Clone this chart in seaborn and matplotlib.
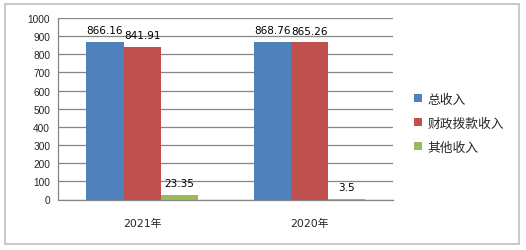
import matplotlib
matplotlib.use("Agg")
import matplotlib.pyplot as plt
import seaborn as sns
import pandas as pd
from matplotlib.patches import Rectangle

years = ["2021年", "2020年"]
series = ["总收入", "财政拨款收入", "其他收入"]
total = [866.16, 868.76]
fiscal = [841.91, 865.26]
other = [23.35, 3.5]
labels_text = {"总收入": ["866.16", "868.76"], "财政拨款收入": ["841.91", "865.26"], "其他收入": ["23.35", "3.5"]}
colors = ["#4F81BD", "#C0504D", "#9BBB59"]

rows = []
for s, vals in zip(series, [total, fiscal, other]):
    for y, v in zip(years, vals):
        rows.append({"year": y, "series": s, "value": v})
df = pd.DataFrame(rows)

sns.set_style("white")
plt.rcParams['font.family'] = ['DejaVu Sans', 'Noto Sans CJK SC']

fig = plt.figure(figsize=(5.26, 2.51), dpi=100)
ax = fig.add_axes([58.5/526, 1-200.5/251, (393-58.5)/526, (200.5-19)/251])

sns.barplot(data=df, x="year", y="value", hue="series", order=years, hue_order=series,
            palette=colors, width=0.667, gap=0, ax=ax, saturation=1, errorbar=None,
            linewidth=0, legend=True)

for cont, s in zip(ax.containers, series):
    ax.bar_label(cont, labels=labels_text[s], padding=5, fontsize=7.5, color="#000000")

ax.set_ylim(0, 1000)
ax.set_yticks(range(0, 1001, 100))
ax.set_xlim(-0.5, 1.5)
ax.set_xlabel("")
ax.set_ylabel("")
ax.grid(axis="y", color="#868686", linewidth=0.9)
ax.set_axisbelow(True)
for sp in ["top", "right"]:
    ax.spines[sp].set_visible(False)
for sp in ["left", "bottom"]:
    ax.spines[sp].set_color("#868686")
    ax.spines[sp].set_linewidth(0.9)
ax.tick_params(axis="y", length=4, color="#868686", width=0.9, pad=2)
for t in ax.get_yticklabels():
    t.set_family(['Liberation Sans', 'DejaVu Sans'])
    t.set_fontsize(7.3)
ax.tick_params(axis="x", which="major", length=0, labelsize=7.8, pad=13)
ax.set_xticks([-0.5, 0.5, 1.5], minor=True)
ax.tick_params(axis="x", which="minor", length=4, color="#868686", width=0.9, direction="out")

handles, lbls = ax.get_legend_handles_labels()
ax.legend(handles, lbls, loc="center left", bbox_to_anchor=(411/526, 1-124/251),
          bbox_transform=fig.transFigure, frameon=False, fontsize=9.2,
          handlelength=0.65, handleheight=0.65, handletextpad=0.45, labelspacing=0.85,
          borderaxespad=0, borderpad=0.2)

fig.patches.append(Rectangle((5/526, 1-245/251), 514/526, 240.5/251, transform=fig.transFigure,
                             fill=False, edgecolor="#BFBFBF", linewidth=1.2))

fig.savefig("out.png", dpi=100)
